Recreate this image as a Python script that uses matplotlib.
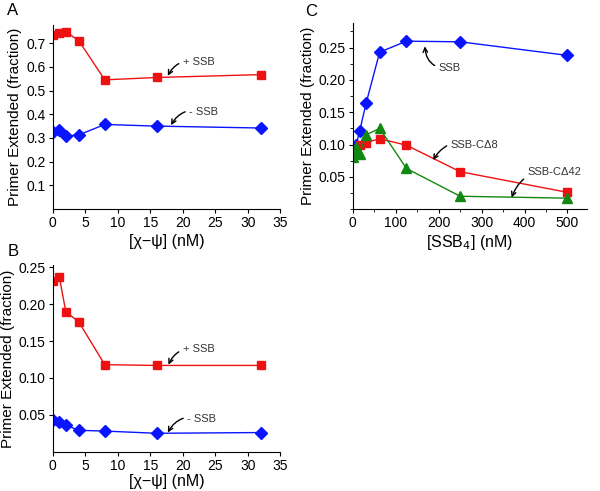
# Primer extension vs [chi-psi] (A, B) and vs [SSB4] (C)
import matplotlib.pyplot as plt
from matplotlib.ticker import MultipleLocator

plt.rcParams['font.family'] = ['Liberation Sans', 'DejaVu Sans']

# panel A / B : x = [chi-psi] nM
chi_psi = [0, 1, 2, 4, 8, 16, 32]
a_plus_ssb = [0.735, 0.742, 0.748, 0.710, 0.545, 0.555, 0.567]
a_minus_ssb = [0.325, 0.333, 0.308, 0.313, 0.357, 0.350, 0.342]
b_plus_ssb = [0.232, 0.237, 0.190, 0.176, 0.118, 0.117, 0.117]
b_minus_ssb = [0.043, 0.040, 0.036, 0.029, 0.028, 0.025, 0.026]

# panel C : x = [SSB4] nM
ssb_x = [2, 8, 16, 31, 62.5, 125, 250, 500]
ssb_y = [0.092, 0.100, 0.121, 0.164, 0.243, 0.260, 0.259, 0.238]
cd8_x = [4, 8, 16, 31, 62.5, 125, 250, 500]
cd8_y = [0.085, 0.090, 0.100, 0.103, 0.109, 0.099, 0.058, 0.026]
cd42_x = [0, 4, 8, 16, 31, 62.5, 125, 250, 500]
cd42_y = [0.080, 0.092, 0.096, 0.086, 0.115, 0.125, 0.063, 0.020, 0.017]

RED = '#ee1111'
BLUE = '#0a14ff'
GREEN = '#118811'

fig = plt.figure(figsize=(6, 4.91), dpi=100)
axA = fig.add_axes([0.088, 0.574, 0.379, 0.375])
axB = fig.add_axes([0.088, 0.080, 0.379, 0.380])
axC = fig.add_axes([0.588, 0.574, 0.390, 0.379])


def estilo(ax):
    for s in ['top', 'right']:
        ax.spines[s].set_visible(False)
    ax.tick_params(direction='out', labelsize=10, length=3, pad=2)
    ax.tick_params(which='minor', length=2)
    ax.set_ylabel('Primer Extended (fraction)', fontsize=11, labelpad=3)


def flecha(ax, texto, xy, xytext, rad=0.4):
    ax.annotate(texto, xy=xy, xytext=xytext, fontsize=8, color='#333333',
                va='center', ha='left',
                arrowprops=dict(arrowstyle='->', color='black', lw=1,
                                connectionstyle='arc3,rad=%s' % rad,
                                shrinkA=1, shrinkB=0))


# A
axA.plot(chi_psi, a_plus_ssb, 's-', color=RED, ms=6, lw=1)
axA.plot(chi_psi, a_minus_ssb, 'D-', color=BLUE, ms=6, lw=1)
axA.set_xlim(0, 35)
axA.set_ylim(0, 0.776)
axA.xaxis.set_major_locator(MultipleLocator(5))
axA.set_yticks([0.1, 0.2, 0.3, 0.4, 0.5, 0.6, 0.7])
axA.set_xlabel('[χ−ψ] (nM)', fontsize=11.5, labelpad=3)
estilo(axA)
flecha(axA, '+ SSB', (17.7, 0.562), (20.0, 0.62))
flecha(axA, '- SSB', (18.2, 0.354), (21.0, 0.41))

# B
axB.plot(chi_psi, b_plus_ssb, 's-', color=RED, ms=6, lw=1)
axB.plot(chi_psi, b_minus_ssb, 'D-', color=BLUE, ms=6, lw=1)
axB.set_xlim(0, 35)
axB.set_ylim(0, 0.253)
axB.xaxis.set_major_locator(MultipleLocator(5))
axB.set_yticks([0.05, 0.10, 0.15, 0.20, 0.25])
axB.set_yticklabels(['0.05', '0.10', '0.15', '0.20', '0.25'])
axB.set_xlabel('[χ−ψ] (nM)', fontsize=11.5, labelpad=1)
estilo(axB)
flecha(axB, '+ SSB', (17.8, 0.118), (20.0, 0.139))
flecha(axB, '- SSB', (17.7, 0.026), (20.7, 0.045))

# C
axC.plot(ssb_x, ssb_y, 'D-', color=BLUE, ms=6, lw=1)
axC.plot(cd8_x, cd8_y, 's-', color=RED, ms=6, lw=1)
axC.plot(cd42_x, cd42_y, '^-', color=GREEN, ms=6.5, lw=1)
axC.set_xlim(0, 545)
axC.set_ylim(0, 0.288)
axC.xaxis.set_major_locator(MultipleLocator(100))
axC.xaxis.set_minor_locator(MultipleLocator(50))
axC.set_yticks([0.05, 0.10, 0.15, 0.20, 0.25])
axC.set_yticklabels(['0.05', '0.10', '0.15', '0.20', '0.25'])
axC.yaxis.set_minor_locator(MultipleLocator(0.025))
axC.set_xlabel('[SSB$_4$] (nM)', fontsize=11.5, labelpad=2)
estilo(axC)
flecha(axC, 'SSB', (168, 0.252), (200, 0.218), rad=-0.5)
flecha(axC, 'SSB-CΔ8', (187, 0.076), (228, 0.100))
flecha(axC, 'SSB-CΔ42', (370, 0.018), (407, 0.058))

fig.text(0.012, 0.978, 'A', fontsize=12, va='center')
fig.text(0.012, 0.487, 'B', fontsize=12, va='center')
fig.text(0.508, 0.976, 'C', fontsize=12, va='center')

fig.savefig('out.png', dpi=100)
